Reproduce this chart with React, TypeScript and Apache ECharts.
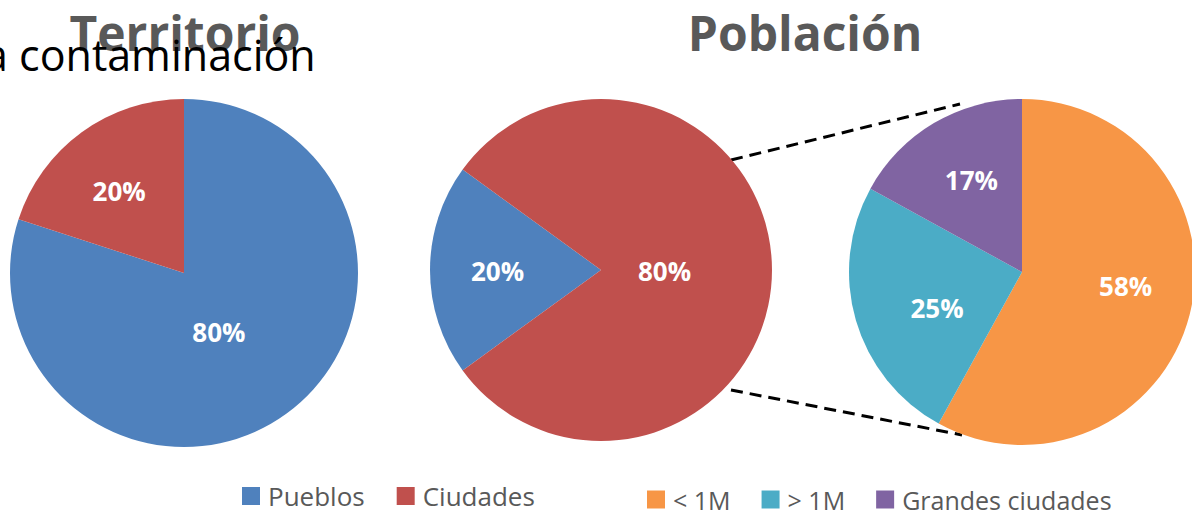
import React, { useEffect, useRef } from "react";
import * as echarts from "echarts";

const territorioNames = ["Pueblos", "Ciudades"];
const territorioValues = [80, 20];
const poblacionNames = ["Pueblos", "Ciudades"];
const poblacionValues = [20, 80];
const ciudadesNames = ["< 1M", "> 1M", "Grandes ciudades"];
const ciudadesValues = [58, 25, 17];

// label nudges (dx, dy) per series / data index, to mimic the reference label placement
const labelNudges = [
  [[-18, -14], [-12, -9]],
  [[-15, 1], [-25, 1]],
  [[17, -8], [1, 11], [-5, -15]],
];

const colorMap: Record<string, string> = {
  Pueblos: "#4F81BD",
  Ciudades: "#C0504D",
  "< 1M": "#F79646",
  "> 1M": "#4BACC6",
  "Grandes ciudades": "#8064A2",
};

const FONT = "'Open Sans', sans-serif";

function mk(names: string[], values: number[]) {
  return names.map((n, i) => ({ name: n, value: values[i], itemStyle: { color: colorMap[n] } }));
}

const label = {
  show: true,
  position: "inside",
  formatter: (p: any) => `${p.value}%`,
  color: "#fff",
  fontWeight: "bold",
  fontSize: 26,
  fontFamily: FONT,
};

const labelLayout = (p: any) => {
  const n = labelNudges[p.seriesIndex]?.[p.dataIndex] || [0, 0];
  return { dx: n[0], dy: n[1] };
};

export default function App() {
  const ref = useRef<HTMLDivElement>(null);
  useEffect(() => {
    if (!ref.current) return;
    const chart = echarts.init(ref.current, null, { renderer: "svg" });
    const legendCommon = {
      icon: "rect",
      itemWidth: 18,
      itemHeight: 18,
      itemGap: 32,
      selectedMode: false,
    };
    chart.setOption({
      animation: false,
      title: [
        {
          text: "Territorio",
          left: 180,
          top: 3,
          textAlign: "center",
          textStyle: { fontSize: 48, fontWeight: "bold", color: "#595959", fontFamily: FONT },
        },
        {
          text: "Población",
          left: 800,
          top: 3,
          textAlign: "center",
          textStyle: { fontSize: 48, fontWeight: "bold", color: "#595959", fontFamily: FONT },
        },
      ],
      legend: [
        {
          ...legendCommon,
          data: territorioNames,
          left: 237,
          top: 478,
          textStyle: { fontSize: 26, lineHeight: 26, color: "#595959", fontFamily: FONT, padding: [0, 0, 0, 3] },
        },
        {
          ...legendCommon,
          data: ciudadesNames,
          left: 642,
          top: 482,
          itemGap: 31,
          textStyle: { fontSize: 25, lineHeight: 25, color: "#595959", fontFamily: FONT, padding: [0, 0, 0, 3] },
        },
      ],
      graphic: [
        {
          type: "text",
          x: -16,
          y: 33,
          z: 100,
          style: { text: "a contaminación", fontSize: 43, fill: "#000", fontFamily: FONT },
        },
        {
          type: "line",
          shape: { x1: 731, y1: 160, x2: 960, y2: 104 },
          style: { stroke: "#000", lineWidth: 3, lineDash: [12, 7] },
        },
        {
          type: "line",
          shape: { x1: 731, y1: 390, x2: 962, y2: 435 },
          style: { stroke: "#000", lineWidth: 3, lineDash: [12, 7] },
        },
      ],
      series: [
        {
          type: "pie",
          center: [184, 273],
          radius: [0, 174],
          startAngle: 90,
          clockwise: true,
          label,
          labelLayout,
          labelLine: { show: false },
          emphasis: { disabled: true },
          data: mk(territorioNames, territorioValues),
        },
        {
          type: "pie",
          center: [601, 270],
          radius: [0, 171],
          startAngle: 216,
          clockwise: true,
          label,
          labelLayout,
          labelLine: { show: false },
          emphasis: { disabled: true },
          data: mk(poblacionNames, poblacionValues),
        },
        {
          type: "pie",
          center: [1022, 272],
          radius: [0, 173],
          startAngle: 90,
          clockwise: true,
          label,
          labelLayout,
          labelLine: { show: false },
          emphasis: { disabled: true },
          data: mk(ciudadesNames, ciudadesValues),
        },
      ],
    });
    return () => chart.dispose();
  }, []);
  return (
    <div
      ref={ref}
      style={{ position: "fixed", left: 0, top: 0, width: 1192, height: 512, background: "#fff" }}
    />
  );
}
